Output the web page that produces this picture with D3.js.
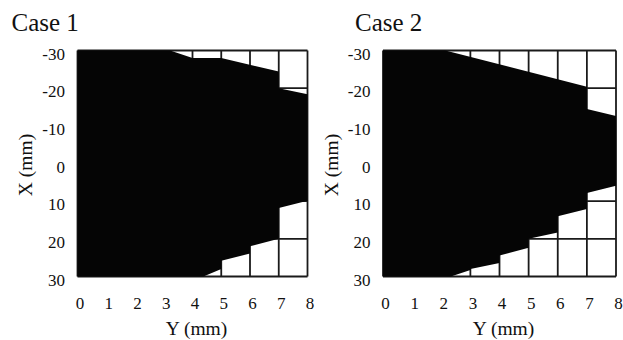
<!DOCTYPE html>
<html>
<head>
<meta charset="utf-8">
<script src="https://cdn.jsdelivr.net/npm/d3@7"></script>
<style>
  body { margin: 0; background: #fff; }
  svg text { font-family: "Liberation Serif", "Times New Roman", serif; fill: #111; }
</style>
</head>
<body>
<div id="chart"></div>
<script>
// Data
var titles       = ["Case 1", "Case 2"];
var yTicks       = [0, 1, 2, 3, 4, 5, 6, 7, 8];          // Y (mm), horizontal
var xTicks       = [-30, -20, -10, 0, 10, 20, 30];       // X (mm), vertical

// upper edge of the black area, left to right
var case1TopY    = [0, 3.22, 4, 5, 7, 7, 8];
var case1TopX    = [-30, -30, -28, -28, -24.4, -20, -18.4];
// lower edge of the black area, right to left
var case1BotY    = [8, 7, 7, 6, 6, 5, 5, 4.38, 0];
var case1BotX    = [9.9, 11.8, 20, 22, 23.9, 25.8, 28, 30, 30];

var case2TopY    = [0, 2.14, 7, 7, 8];
var case2TopX    = [-30, -30, -20.4, -14.5, -12.6];
var case2BotY    = [8, 7, 7, 6, 6, 5, 5, 4, 4, 3, 3, 2.33, 0];
var case2BotX    = [5.9, 7.8, 12.1, 14, 18.3, 20, 22.4, 24.4, 26.4, 28, 28.3, 30, 30];

var cases = [
    { top: d3.zip(case1TopY, case1TopX), bot: d3.zip(case1BotY, case1BotX) },
    { top: d3.zip(case2TopY, case2TopX), bot: d3.zip(case2BotY, case2BotX) }
];

// layout of the two panels
var panels = [
    { left: 77.5, right: 307.5, top: 50.5, bottom: 276.5, titleX: 11.5, labelX: 32 },
    { left: 383,  right: 616,   top: 50.5, bottom: 276.5, titleX: 355,  labelX: 338 }
];

var svg = d3.select("#chart")
    .append("svg")
    .attr("width", 623)
    .attr("height", 340);

panels.forEach(function(p, i) {
    var x = d3.scaleLinear().domain([0, 8]).range([p.left, p.right]);
    var y = d3.scaleLinear().domain([-30, 30]).range([p.top, p.bottom]);
    var g = svg.append("g");

    // grid cells (only seen where the black area leaves them white)
    g.selectAll("line.v")
        .data(yTicks)
        .enter()
        .append("line")
        .attr("x1", d => x(d)).attr("x2", d => x(d))
        .attr("y1", y(-30)).attr("y2", y(30))
        .style("stroke", "#1a1a1a")
        .style("stroke-width", 1.8);

    g.selectAll("line.h")
        .data(xTicks)
        .enter()
        .append("line")
        .attr("y1", d => y(d)).attr("y2", d => y(d))
        .attr("x1", x(0)).attr("x2", x(8))
        .style("stroke", "#1a1a1a")
        .style("stroke-width", 1.8);

    // black area
    var pts = cases[i].top.concat(cases[i].bot);
    var line = d3.line().x(d => x(d[0])).y(d => y(d[1]));
    g.append("path")
        .attr("d", line(pts) + "Z")
        .style("fill", "#050505");

    // axes
    var ax = g.append("g")
        .attr("transform", "translate(" + p.left + ",0)")
        .call(d3.axisLeft(y).tickValues(xTicks).tickSize(0).tickPadding(12.5)
            .tickFormat(d => String(d)));
    ax.attr("font-family", "Liberation Serif").attr("font-size", 17);
    ax.select(".domain").remove();
    ax.selectAll("text")
        .attr("dy", "0.5em");

    var bx = g.append("g")
        .attr("transform", "translate(0," + p.bottom + ")")
        .call(d3.axisBottom(x).tickValues(yTicks).tickSize(0).tickPadding(20));
    bx.attr("font-family", "Liberation Serif").attr("font-size", 17);
    bx.select(".domain").remove();
    bx.selectAll("text")
        .attr("dx", 2);

    // labels
    g.append("text")
        .attr("x", p.titleX)
        .attr("y", 31)
        .style("font-size", "25px")
        .text(titles[i]);

    g.append("text")
        .attr("x", (p.left + p.right) / 2 + 4)
        .attr("y", 335)
        .attr("text-anchor", "middle")
        .style("font-size", "19.5px")
        .text("Y (mm)");

    g.append("text")
        .attr("transform", "translate(" + p.labelX + "," + 165 + ") rotate(-90)")
        .attr("text-anchor", "middle")
        .style("font-size", "19.5px")
        .text("X (mm)");
});
</script>
</body>
</html>
